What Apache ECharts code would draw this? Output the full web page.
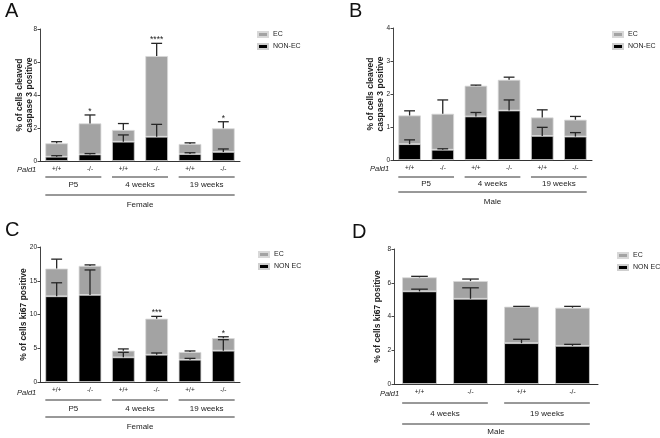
<!DOCTYPE html>
<html><head><meta charset="utf-8">
<script src="https://cdn.jsdelivr.net/npm/echarts@6/dist/echarts.min.js"></script>
<style>html,body{margin:0;padding:0;background:#fff}#c{width:660px;height:438px}</style>
</head><body><div id="c"></div>
<script>
// ---------- data ----------
const genotypes6 = ['+/+', '-/-', '+/+', '-/-', '+/+', '-/-'];
const genotypes4 = ['+/+', '-/-', '+/+', '-/-'];
const ageGroups3 = ['P5', '4 weeks', '19 weeks'];
const ageGroups2 = ['4 weeks', '19 weeks'];

// Panel A: cleaved caspase 3, female
const aNonEc    = [0.26, 0.40, 1.17, 1.47, 0.42, 0.55];
const aNonEcErr = [0.06, 0.05, 0.41, 0.75, 0.08, 0.18];
const aEc       = [0.81, 1.88, 0.71, 4.89, 0.61, 1.43];
const aEcErr    = [0.10, 0.51, 0.39, 0.77, 0.07, 0.40];
const aStars    = ['', '*', '', '****', '', '*'];

// Panel B: cleaved caspase 3, male
const bNonEc    = [0.48, 0.31, 1.32, 1.50, 0.73, 0.71];
const bNonEcErr = [0.13, 0.03, 0.12, 0.32, 0.26, 0.12];
const bEc       = [0.87, 1.09, 0.93, 0.93, 0.56, 0.51];
const bEcErr    = [0.14, 0.42, 0.02, 0.08, 0.23, 0.10];
const bStars    = ['', '', '', '', '', ''];

// Panel C: ki67, female
const cNonEc    = [12.7, 12.9, 3.65, 4.04, 3.30, 4.64];
const cNonEcErr = [2.0, 3.7, 0.75, 0.26, 0.20, 1.63];
const cEc       = [4.1, 4.3, 0.99, 5.34, 1.14, 1.86];
const cEcErr    = [1.4, 0.15, 0.26, 0.34, 0.16, 0.20];
const cStars    = ['', '', '', '***', '', '*'];

// Panel D: ki67, male
const dNonEc    = [5.49, 5.05, 2.42, 2.26];
const dNonEcErr = [0.13, 0.65, 0.23, 0.09];
const dEc       = [0.83, 1.05, 2.16, 2.26];
const dEcErr    = [0.06, 0.12, 0.02, 0.08];
const dStars    = ['', '', '', ''];

// ---------- layout / style ----------
const FONT = 'Liberation Sans, Arial, sans-serif';
const GRAY = '#a3a3a3';
const INK = '#222';
const BAR_FRAC = 0.68;

const panels = [
  { letter: 'A', lx: 3, ly: -1, grid: {left: 40, top: 29, width: 200, height: 132},
    max: 8, interval: 2, yName: '% of cells cleaved\ncaspase 3 positive', nameGap: 5,
    cats: genotypes6, groups: ageGroups3, sex: 'Female', nonEcName: 'NON-EC',
    nonEc: aNonEc, nonEcErr: aNonEcErr, ec: aEc, ecErr: aEcErr, stars: aStars,
    legend: {left: 257, top: 31}, off: {pald: 9, l1: 16, t1: 24, l2: 34, t2: 44} },
  { letter: 'B', lx: 347, ly: -1, grid: {left: 393, top: 28, width: 199, height: 132},
    max: 4, interval: 1, yName: '% of cells cleaved\ncaspase 3 positive', nameGap: 7,
    cats: genotypes6, groups: ageGroups3, sex: 'Male', nonEcName: 'NON-EC',
    nonEc: bNonEc, nonEcErr: bNonEcErr, ec: bEc, ecErr: bEcErr, stars: bStars,
    legend: {left: 612, top: 31}, off: {pald: 9, l1: 17, t1: 24, l2: 32, t2: 42} },
  { letter: 'C', lx: 3, ly: 218, grid: {left: 40, top: 247, width: 200, height: 135},
    max: 20, interval: 5, yName: '% of cells ki67 positive', nameGap: 11,
    cats: genotypes6, groups: ageGroups3, sex: 'Female', nonEcName: 'NON EC',
    nonEc: cNonEc, nonEcErr: cNonEcErr, ec: cEc, ecErr: cEcErr, stars: cStars,
    legend: {left: 258, top: 251}, off: {pald: 11, l1: 18, t1: 27, l2: 35, t2: 45} },
  { letter: 'D', lx: 350, ly: 220, grid: {left: 394, top: 249, width: 204, height: 135},
    max: 8, interval: 2, yName: '% of cells ki67 positive', nameGap: 11,
    cats: genotypes4, groups: ageGroups2, sex: 'Male', nonEcName: 'NON EC',
    nonEc: dNonEc, nonEcErr: dNonEcErr, ec: dEc, ecErr: dEcErr, stars: dStars,
    legend: {left: 617, top: 252}, off: {pald: 10, l1: 19, t1: 30, l2: 40, t2: 48} }
];

function errRenderer(stars) {
  return function (params, api) {
    const idx = api.value(0), top = api.value(1), err = api.value(2), isTotal = api.value(3);
    const p0 = api.coord([idx, top]);
    const p1 = api.coord([idx, top + err]);
    const cap = api.size([1, 0])[0] * BAR_FRAC * 0.24;
    const st = {stroke: '#262626', lineWidth: 1.3};
    const ch = [
      {type: 'line', shape: {x1: p0[0], y1: p0[1], x2: p1[0], y2: p1[1]}, style: st},
      {type: 'line', shape: {x1: p1[0] - cap, y1: p1[1], x2: p1[0] + cap, y2: p1[1]}, style: st}
    ];
    if (isTotal && stars[idx]) {
      ch.push({type: 'text', x: p1[0], y: p1[1] + 1,
        style: {text: stars[idx], fill: INK, fontSize: 8.5, fontFamily: FONT, align: 'center', verticalAlign: 'bottom'}});
    }
    return {type: 'group', children: ch};
  };
}

function bracketRenderer(p) {
  return function (params, api) {
    const s = api.value(0), e = api.value(2), row = api.value(3);
    const half = api.size([1, 0])[0] * BAR_FRAC / 2;
    const ps = api.coord([s, 0]), pe = api.coord([e, 0]);
    const y0 = ps[1];
    const x1 = ps[0] - half, x2 = pe[0] + half;
    const ly = row === 0 ? p.off.l1 : p.off.l2;
    const ty = row === 0 ? p.off.t1 : p.off.t2;
    const label = row === 0 ? p.groups[params.dataIndex] : p.sex;
    const ch = [
      {type: 'line', shape: {x1: x1, y1: y0 + ly, x2: x2, y2: y0 + ly}, style: {stroke: '#333', lineWidth: 1}},
      {type: 'text', x: (x1 + x2) / 2, y: y0 + ty,
        style: {text: label, fill: INK, fontSize: 8, fontFamily: FONT, align: 'center', verticalAlign: 'middle'}}
    ];
    if (params.dataIndex === 0) {
      ch.push({type: 'text', x: ps[0] - 30, y: y0 + p.off.pald,
        style: {text: 'Pald1', fill: INK, fontSize: 7.5, fontStyle: 'italic', fontFamily: FONT, align: 'center', verticalAlign: 'middle'}});
    }
    return {type: 'group', children: ch};
  };
}

const option = {
  animation: false,
  backgroundColor: '#fff',
  title: [], grid: [], xAxis: [], yAxis: [], legend: [], series: []
};

panels.forEach((p, i) => {
  option.title.push({text: p.letter, left: p.lx, top: p.ly, padding: 2,
    textStyle: {fontSize: 20, fontWeight: 'normal', color: '#111', fontFamily: FONT}});
  option.grid.push(Object.assign({containLabel: false}, p.grid));
  option.xAxis.push({type: 'category', gridIndex: i, data: p.cats,
    axisLine: {lineStyle: {color: '#333', width: 1}},
    axisTick: {alignWithLabel: true, length: 3, lineStyle: {color: '#333'}},
    axisLabel: {fontSize: 6.5, color: INK, margin: 5, fontFamily: FONT}});
  option.yAxis.push({type: 'value', gridIndex: i, min: 0, max: p.max, interval: p.interval,
    name: p.yName, nameLocation: 'middle', nameRotate: 90, nameGap: p.nameGap, nameMoveOverlap: false,
    nameTextStyle: {fontSize: 8.5, fontWeight: 'bold', color: INK, fontFamily: FONT, lineHeight: 10.5},
    axisLine: {show: true, lineStyle: {color: '#444', width: 1}},
    axisTick: {show: true, length: 2.5, lineStyle: {color: '#444'}},
    axisLabel: {fontSize: 6.5, color: INK, margin: 3, fontFamily: FONT},
    splitLine: {show: false}});
  option.legend.push({orient: 'vertical', left: p.legend.left, top: p.legend.top, padding: 0,
    data: ['EC', p.nonEcName], icon: 'rect', itemWidth: 10, itemHeight: 5, itemGap: 5,
    selectedMode: false,
    textStyle: {fontSize: 7, color: INK, fontFamily: FONT, overflow: 'none'}});
  const stackId = 'st' + i;
  option.series.push({type: 'bar', name: p.nonEcName, xAxisIndex: i, yAxisIndex: i, stack: stackId,
    data: p.nonEc, barWidth: (BAR_FRAC * 100) + '%',
    itemStyle: {color: '#000', borderColor: '#cfcfcf', borderWidth: 0.8}});
  option.series.push({type: 'bar', name: 'EC', xAxisIndex: i, yAxisIndex: i, stack: stackId,
    data: p.ec, barWidth: (BAR_FRAC * 100) + '%',
    itemStyle: {color: GRAY, borderColor: '#d8d8d8', borderWidth: 0.8}});
  const errData = [];
  p.nonEc.forEach((v, k) => {
    errData.push([k, v, p.nonEcErr[k], 0]);
    errData.push([k, v + p.ec[k], p.ecErr[k], 1]);
  });
  option.series.push({type: 'custom', xAxisIndex: i, yAxisIndex: i, z: 5, silent: true,
    renderItem: errRenderer(p.stars), data: errData, encode: {x: 0, y: 1}});
  const brData = p.groups.map((g, k) => [2 * k, 0, 2 * k + 1, 0]);
  brData.push([0, 0, p.cats.length - 1, 1]);
  option.series.push({type: 'custom', xAxisIndex: i, yAxisIndex: i, z: 5, silent: true, clip: false,
    renderItem: bracketRenderer(p), data: brData, encode: {x: 0, y: 1}});
});

const chart = echarts.init(document.getElementById('c'), null, {renderer: 'canvas'});
chart.setOption(option);
</script>
</body></html>
